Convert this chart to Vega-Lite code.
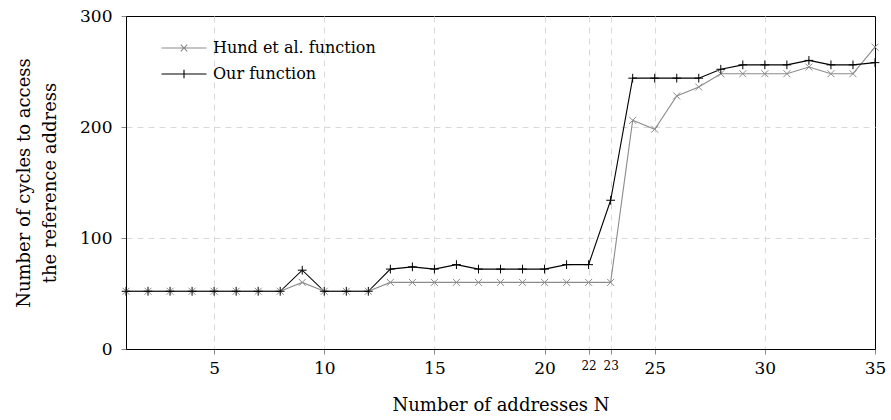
{
  "$schema": "https://vega.github.io/schema/vega-lite/v6.json",
  "width": 749,
  "height": 333,
  "autosize": "none",
  "padding": {"left": 126, "top": 16, "right": 16, "bottom": 71},
  "background": "white",
  "config": {
    "view": {"stroke": "black", "strokeWidth": 1},
    "font": "DejaVu Serif",
    "axis": {
      "labelFont": "DejaVu Serif",
      "titleFont": "DejaVu Serif",
      "labelFontSize": 17,
      "titleFontSize": 18,
      "labelColor": "black",
      "titleColor": "black",
      "titleFontWeight": "normal",
      "domainColor": "black",
      "tickColor": "#888888",
      "tickSize": 5,
      "gridColor": "#d9d9d9",
      "gridDash": [6, 5],
      "gridWidth": 1
    },
    "legend": {"labelFont": "DejaVu Serif", "labelFontSize": 16, "labelColor": "black", "labelLimit": 0}
  },
  "data": {
    "values": [
      {"N": 1, "series": "Hund et al. function", "cycles": 52},
      {"N": 2, "series": "Hund et al. function", "cycles": 52},
      {"N": 3, "series": "Hund et al. function", "cycles": 52},
      {"N": 4, "series": "Hund et al. function", "cycles": 52},
      {"N": 5, "series": "Hund et al. function", "cycles": 52},
      {"N": 6, "series": "Hund et al. function", "cycles": 52},
      {"N": 7, "series": "Hund et al. function", "cycles": 52},
      {"N": 8, "series": "Hund et al. function", "cycles": 52},
      {"N": 9, "series": "Hund et al. function", "cycles": 60},
      {"N": 10, "series": "Hund et al. function", "cycles": 52},
      {"N": 11, "series": "Hund et al. function", "cycles": 52},
      {"N": 12, "series": "Hund et al. function", "cycles": 52},
      {"N": 13, "series": "Hund et al. function", "cycles": 60},
      {"N": 14, "series": "Hund et al. function", "cycles": 60},
      {"N": 15, "series": "Hund et al. function", "cycles": 60},
      {"N": 16, "series": "Hund et al. function", "cycles": 60},
      {"N": 17, "series": "Hund et al. function", "cycles": 60},
      {"N": 18, "series": "Hund et al. function", "cycles": 60},
      {"N": 19, "series": "Hund et al. function", "cycles": 60},
      {"N": 20, "series": "Hund et al. function", "cycles": 60},
      {"N": 21, "series": "Hund et al. function", "cycles": 60},
      {"N": 22, "series": "Hund et al. function", "cycles": 60},
      {"N": 23, "series": "Hund et al. function", "cycles": 60},
      {"N": 24, "series": "Hund et al. function", "cycles": 206},
      {"N": 25, "series": "Hund et al. function", "cycles": 198},
      {"N": 26, "series": "Hund et al. function", "cycles": 228},
      {"N": 27, "series": "Hund et al. function", "cycles": 236},
      {"N": 28, "series": "Hund et al. function", "cycles": 248},
      {"N": 29, "series": "Hund et al. function", "cycles": 248},
      {"N": 30, "series": "Hund et al. function", "cycles": 248},
      {"N": 31, "series": "Hund et al. function", "cycles": 248},
      {"N": 32, "series": "Hund et al. function", "cycles": 254},
      {"N": 33, "series": "Hund et al. function", "cycles": 248},
      {"N": 34, "series": "Hund et al. function", "cycles": 248},
      {"N": 35, "series": "Hund et al. function", "cycles": 272},
      {"N": 1, "series": "Our function", "cycles": 52},
      {"N": 2, "series": "Our function", "cycles": 52},
      {"N": 3, "series": "Our function", "cycles": 52},
      {"N": 4, "series": "Our function", "cycles": 52},
      {"N": 5, "series": "Our function", "cycles": 52},
      {"N": 6, "series": "Our function", "cycles": 52},
      {"N": 7, "series": "Our function", "cycles": 52},
      {"N": 8, "series": "Our function", "cycles": 52},
      {"N": 9, "series": "Our function", "cycles": 71},
      {"N": 10, "series": "Our function", "cycles": 52},
      {"N": 11, "series": "Our function", "cycles": 52},
      {"N": 12, "series": "Our function", "cycles": 52},
      {"N": 13, "series": "Our function", "cycles": 72},
      {"N": 14, "series": "Our function", "cycles": 74},
      {"N": 15, "series": "Our function", "cycles": 72},
      {"N": 16, "series": "Our function", "cycles": 76},
      {"N": 17, "series": "Our function", "cycles": 72},
      {"N": 18, "series": "Our function", "cycles": 72},
      {"N": 19, "series": "Our function", "cycles": 72},
      {"N": 20, "series": "Our function", "cycles": 72},
      {"N": 21, "series": "Our function", "cycles": 76},
      {"N": 22, "series": "Our function", "cycles": 76},
      {"N": 23, "series": "Our function", "cycles": 134},
      {"N": 24, "series": "Our function", "cycles": 244},
      {"N": 25, "series": "Our function", "cycles": 244},
      {"N": 26, "series": "Our function", "cycles": 244},
      {"N": 27, "series": "Our function", "cycles": 244},
      {"N": 28, "series": "Our function", "cycles": 252},
      {"N": 29, "series": "Our function", "cycles": 256},
      {"N": 30, "series": "Our function", "cycles": 256},
      {"N": 31, "series": "Our function", "cycles": 256},
      {"N": 32, "series": "Our function", "cycles": 260},
      {"N": 33, "series": "Our function", "cycles": 256},
      {"N": 34, "series": "Our function", "cycles": 256},
      {"N": 35, "series": "Our function", "cycles": 258}
    ]
  },
  "encoding": {
    "x": {
      "field": "N",
      "type": "quantitative",
      "scale": {"domain": [1, 35], "nice": false, "zero": false},
      "axis": {
        "title": "Number of addresses N",
        "values": [5, 10, 15, 20, 22, 23, 25, 30, 35],
        "labelFontSize": {"condition": {"test": "datum.value == 22 || datum.value == 23", "value": 12}, "value": 17},
        "gridOpacity": {"condition": {"test": "datum.value == 35", "value": 0}, "value": 1},
        "labelPadding": 6,
        "titlePadding": 20,
        "labelFlush": false,
        "labelOverlap": false
      }
    },
    "y": {
      "field": "cycles",
      "type": "quantitative",
      "scale": {"domain": [0, 300], "nice": false},
      "axis": {
        "title": ["Number of cycles to access", "the reference address"],
        "titleLineHeight": 26,
        "values": [0, 100, 200, 300],
        "gridOpacity": {"condition": {"test": "datum.value == 300 || datum.value == 0", "value": 0}, "value": 1},
        "labelPadding": 9,
        "titlePadding": 20,
        "labelFlush": false
      }
    },
    "color": {
      "field": "series",
      "type": "nominal",
      "scale": {"domain": ["Hund et al. function", "Our function"], "range": ["#8c8c8c", "#000000"]},
      "legend": {
        "title": null,
        "orient": "none",
        "legendX": 47,
        "legendY": 21,
        "padding": 0,
        "symbolSize": 400,
        "rowPadding": 7,
        "labelOffset": 18,
        "encode": {
          "symbols": {
            "update": {
              "shape": {"signal": "datum.value == 'Our function' ? 'M-2.25,0L2.25,0M0,-0.42L0,0.42' : 'M-2.25,0L2.25,0M-0.33,-0.33L0.33,0.33M-0.33,0.33L0.33,-0.33'"},
              "stroke": {"signal": "datum.value == 'Our function' ? '#000000' : '#8c8c8c'"},
              "fill": {"value": "transparent"},
              "strokeWidth": {"value": 1.1},
              "opacity": {"value": 1}
            }
          }
        }
      }
    }
  },
  "layer": [
    {
      "mark": {"type": "line", "strokeWidth": 1.1},
      "encoding": {"detail": {"field": "series"}}
    },
    {
      "mark": {"type": "point", "filled": false, "size": 49, "strokeWidth": 1, "opacity": 1},
      "encoding": {
        "shape": {
          "condition": {"test": "datum.series == 'Our function'", "value": "M-1.25,0L1.25,0M0,-1.25L0,1.25"},
          "value": "M-1,-1L1,1M-1,1L1,-1"
        }
      }
    }
  ]
}
